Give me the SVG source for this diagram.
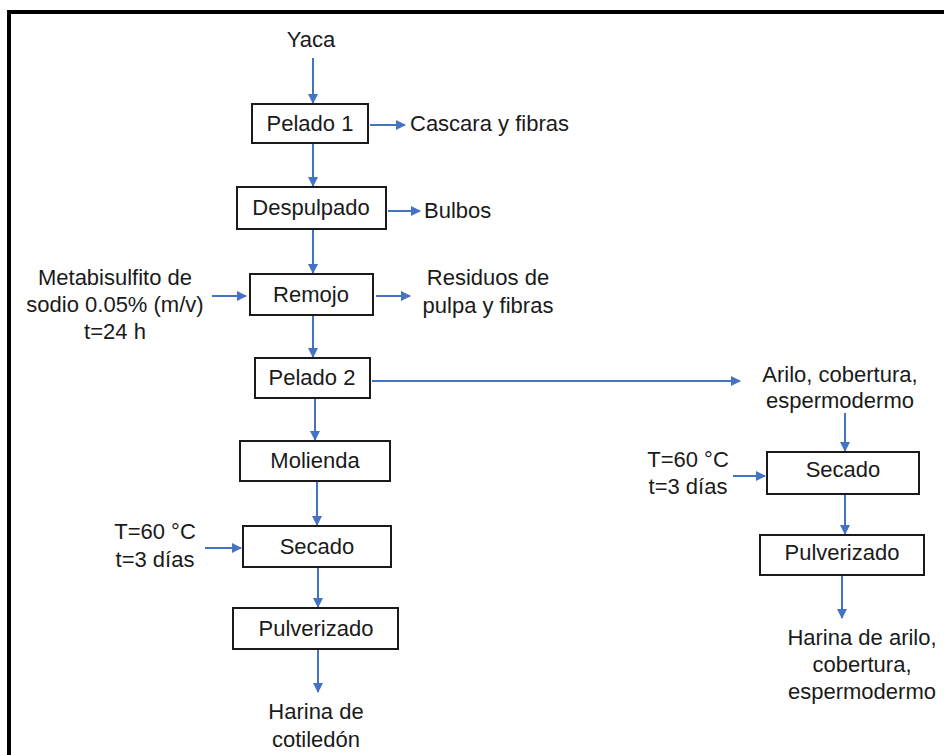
<svg xmlns="http://www.w3.org/2000/svg" width="944" height="755" viewBox="0 0 944 755">
<style>
.box{fill:#fff;stroke:#1a1a1a;stroke-width:2}
.t{font-family:"Liberation Sans",Arial,sans-serif;font-size:22px;fill:#1a1a1a;text-anchor:middle}
.s{text-anchor:start}
.c{stroke:#4472C4;stroke-width:2;fill:none;marker-end:url(#ah)}
</style>
<defs>
<marker id="ah" viewBox="0 0 10 10" refX="9" refY="5" markerWidth="5" markerHeight="5" orient="auto" markerUnits="strokeWidth">
<path d="M0,0 L10,5 L0,10 z" fill="#4472C4"/>
</marker>
</defs>
<rect x="0" y="0" width="944" height="755" fill="#fff"/>
<path d="M9,760 V12 H950" fill="none" stroke="#000" stroke-width="4"/>

<g id="connectors">
<line class="c" x1="313" y1="58" x2="313" y2="103"/>
<line class="c" x1="370" y1="125" x2="405" y2="125"/>
<line class="c" x1="313" y1="144" x2="313" y2="186"/>
<line class="c" x1="388" y1="211" x2="420" y2="211"/>
<line class="c" x1="313" y1="230" x2="313" y2="273"/>
<line class="c" x1="212" y1="296" x2="246" y2="296"/>
<line class="c" x1="376" y1="296" x2="410" y2="296"/>
<line class="c" x1="313" y1="316" x2="313" y2="357"/>
<line class="c" x1="372" y1="381" x2="740" y2="381"/>
<line class="c" x1="315" y1="399" x2="315" y2="440"/>
<line class="c" x1="317" y1="482" x2="317" y2="525"/>
<line class="c" x1="205" y1="548" x2="241" y2="548"/>
<line class="c" x1="318" y1="568" x2="318" y2="607"/>
<line class="c" x1="318" y1="650" x2="318" y2="692"/>
<line class="c" x1="845" y1="413" x2="845" y2="451"/>
<line class="c" x1="733" y1="476" x2="765" y2="476"/>
<line class="c" x1="845" y1="495" x2="845" y2="534"/>
<line class="c" x1="842" y1="576" x2="842" y2="618"/>
</g>

<g id="yaca"><text class="t" x="311" y="47">Yaca</text></g>
<g id="pelado1"><rect class="box" x="252" y="104" width="116" height="39"/><text class="t" x="310" y="131">Pelado 1</text></g>
<g id="cascara"><text class="t s" x="410" y="131">Cascara y fibras</text></g>
<g id="despulpado"><rect class="box" x="237" y="187" width="149" height="42"/><text class="t" x="311" y="215">Despulpado</text></g>
<g id="bulbos"><text class="t s" x="424" y="218">Bulbos</text></g>
<g id="remojo"><rect class="box" x="250" y="274" width="123" height="41"/><text class="t" x="311" y="302">Remojo</text></g>
<g id="metabisulfito"><text class="t" x="115" y="285">Metabisulfito de</text><text class="t" x="115" y="312">sodio 0.05% (m/v)</text><text class="t" x="115" y="339">t=24 h</text></g>
<g id="residuos"><text class="t" x="488" y="285">Residuos de</text><text class="t" x="488" y="313">pulpa y fibras</text></g>
<g id="pelado2"><rect class="box" x="255" y="358" width="115" height="40"/><text class="t" x="312" y="385">Pelado 2</text></g>
<g id="arilo"><text class="t" x="840" y="382">Arilo, cobertura,</text><text class="t" x="840" y="408">espermodermo</text></g>
<g id="molienda"><rect class="box" x="240" y="441" width="150" height="40"/><text class="t" x="315" y="468">Molienda</text></g>
<g id="cond1"><text class="t" x="155" y="539">T=60 °C</text><text class="t" x="155" y="567">t=3 días</text></g>
<g id="secado1"><rect class="box" x="243" y="526" width="148" height="41"/><text class="t" x="317" y="554">Secado</text></g>
<g id="pulverizado1"><rect class="box" x="233" y="608" width="165" height="41"/><text class="t" x="316" y="636">Pulverizado</text></g>
<g id="harina1"><text class="t" x="316" y="719">Harina de</text><text class="t" x="316" y="747">cotiledón</text></g>
<g id="cond2"><text class="t" x="688" y="467">T=60 °C</text><text class="t" x="688" y="494">t=3 días</text></g>
<g id="secado2"><rect class="box" x="767" y="452" width="152" height="42"/><text class="t" x="843" y="477">Secado</text></g>
<g id="pulverizado2"><rect class="box" x="760" y="535" width="164" height="40"/><text class="t" x="842" y="560">Pulverizado</text></g>
<g id="harina2"><text class="t" x="862" y="645">Harina de arilo,</text><text class="t" x="862" y="672">cobertura,</text><text class="t" x="862" y="699">espermodermo</text></g>
</svg>
